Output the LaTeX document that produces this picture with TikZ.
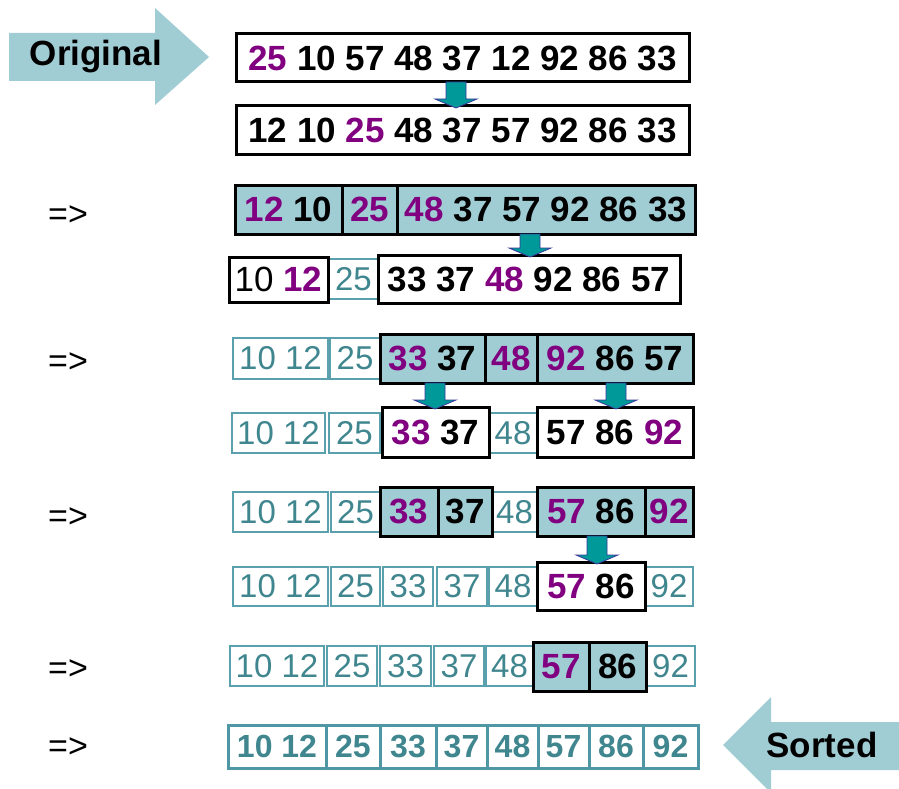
\documentclass[tikz,border=0pt]{standalone}
\usepackage{fontspec}
\setmainfont{Liberation Sans}
\usetikzlibrary{calc}
\definecolor{pur}{HTML}{800080}
\definecolor{lb}{HTML}{A0CCD4}
\definecolor{tealt}{HTML}{40868F}
\definecolor{tealb}{HTML}{5BA0AD}
\definecolor{tealf}{HTML}{4F97A4}
\definecolor{arrfill}{HTML}{009999}
\definecolor{arrline}{HTML}{3A3A9A}
\tikzset{
  cellbase/.style={rectangle, inner sep=0pt, outer sep=0pt},
  cellplain/.style={cellbase, draw=black, line width=3pt, fill=white, text=black, font=\bfseries\fontsize{35}{40}\selectfont},
  cellhl/.style={cellplain, fill=lb},
  celldone/.style={cellbase, draw=tealb, line width=1.2pt, fill=white, text=tealt, font=\fontsize{33}{38}\selectfont},
  cellfin/.style={cellbase, draw=tealf, line width=3pt, fill=white, text=tealt, font=\bfseries\fontsize{32}{38}\selectfont},
  lbl/.style={inner sep=0pt, font=\fontsize{34}{40}\selectfont},
  bigtxt/.style={inner sep=0pt, font=\bfseries\fontsize{35}{40}\selectfont},
  blockarrow/.style={fill=arrfill, draw=arrline, line width=0.8pt, line join=miter},
}
\newcommand\cell[7]{\node[#2, minimum width={#5-#3}, minimum height={#6-#4}] (#1) at ({(#3+#5)/2},{(#4+#6)/2}) {#7};}
\newcommand\downarr[3]{%
  \coordinate (dt) at (#1,0 |- #2.south);
  \coordinate (dh) at ($(#1,0 |- #3.north)+(0,2)$);
  \draw[blockarrow] ($(dt)+(-10,0)$) -- ($(dh)+(-10,-9)$) -- ($(dh)+(-21,-9)$) -- (dh)
     -- ($(dh)+(21,-9)$) -- ($(dh)+(10,-9)$) -- ($(dt)+(10,0)$) -- cycle;}
\newcommand\p[1]{\textcolor{pur}{#1}}
\begin{document}
\begin{tikzpicture}[x=1pt, y=-1pt]
\useasboundingbox (0,0) rectangle (899,789);
\clip (0,0) rectangle (899,789);
% big arrows
\fill[lb] (9,33) -- (155,33) -- (155,8) -- (209,57) -- (155,105) -- (155,81) -- (9,81) -- cycle;
\node[bigtxt] (orig) at (96,57) {Original};
\fill[lb] (899,722) -- (771,722) -- (771,697) -- (723,745) -- (771,793) -- (771,770) -- (899,770) -- cycle;
\node[bigtxt] (sorted) at (822,745) {Sorted};
% labels
\node[lbl] (e1) at (68,216) {=>};
\node[lbl] (e2) at (68,363) {=>};
\node[lbl] (e3) at (68,518) {=>};
\node[lbl] (e4) at (68,670) {=>};
\node[lbl] (e5) at (68,748) {=>};
% row 1-2
\cell{r1}{cellplain}{236}{34}{689}{82}{\p{25} 10 57 48 37 12 92 86 33}
\cell{r2}{cellplain}{236}{106}{689}{154}{12 10 \p{25} 48 37 57 92 86 33}
% row 3
\cell{r3a}{cellhl}{235}{185}{342}{234}{\p{12} 10}
\cell{r3b}{cellhl}{342}{185}{397}{234}{\p{25}}
\cell{r3c}{cellhl}{397}{185}{695}{234}{\p{48} 37 57 92 86 33}
% row 4
\cell{r4b}{celldone}{329}{259}{378}{299}{25}
\cell{r4a}{cellplain}{229}{257}{328}{302}{{\mdseries 10} \p{12}}
\cell{r4c}{cellplain}{378}{255}{680}{303}{33 37 \p{48} 92 86 57}
% row 5
\cell{r5a}{celldone}{233}{338}{328}{379}{10 12}
\cell{r5b}{celldone}{330}{338}{380}{379}{25}
\cell{r5c}{cellhl}{380}{334}{485}{383}{\p{33} 37}
\cell{r5d}{cellhl}{485}{334}{537}{383}{\p{48}}
\cell{r5e}{cellhl}{537}{334}{693}{383}{\p{92} 86 57}
% row 6
\cell{r6a}{celldone}{232}{413}{325}{453}{10 12}
\cell{r6b}{celldone}{329}{413}{380}{453}{25}
\cell{r6d}{celldone}{489}{413}{537}{453}{48}
\cell{r6c}{cellplain}{382}{407}{489}{457}{\p{33} 37}
\cell{r6e}{cellplain}{537}{407}{693}{457}{57 86 \p{92}}
% row 7
\cell{r7a}{celldone}{233}{492}{328}{532}{10 12}
\cell{r7b}{celldone}{331}{492}{380}{532}{25}
\cell{r7e}{celldone}{492}{492}{537}{532}{48}
\cell{r7c}{cellhl}{380}{487}{438}{536}{\p{33}}
\cell{r7d}{cellhl}{438}{487}{492}{536}{37}
\cell{r7f}{cellhl}{537}{487}{645}{536}{\p{57} 86}
\cell{r7g}{cellhl}{645}{487}{693}{536}{\p{92}}
% row 8
\cell{r8a}{celldone}{233}{567}{328}{606}{10 12}
\cell{r8b}{celldone}{331}{567}{380}{606}{25}
\cell{r8c}{celldone}{383}{567}{433}{606}{33}
\cell{r8d}{celldone}{437}{567}{487}{606}{37}
\cell{r8e}{celldone}{489}{567}{537}{606}{48}
\cell{r8g}{celldone}{645}{567}{693}{606}{92}
\cell{r8f}{cellplain}{537}{562}{645}{610}{\p{57} 86}
% row 9
\cell{r9a}{celldone}{230}{646}{324}{686}{10 12}
\cell{r9b}{celldone}{327}{646}{377}{686}{25}
\cell{r9c}{celldone}{380}{646}{431}{686}{33}
\cell{r9d}{celldone}{434}{646}{484}{686}{37}
\cell{r9e}{celldone}{486}{646}{533}{686}{48}
\cell{r9h}{celldone}{646}{646}{695}{686}{92}
\cell{r9f}{cellhl}{533}{642}{589}{691}{\p{57}}
\cell{r9g}{cellhl}{589}{642}{646}{691}{86}
% row 10
\cell{s1}{cellfin}{228}{725}{326}{768}{10 12}
\cell{s2}{cellfin}{326}{725}{380}{768}{25}
\cell{s3}{cellfin}{380}{725}{436}{768}{33}
\cell{s4}{cellfin}{436}{725}{487}{768}{37}
\cell{s5}{cellfin}{487}{725}{538}{768}{48}
\cell{s6}{cellfin}{538}{725}{589}{768}{57}
\cell{s7}{cellfin}{589}{725}{643}{768}{86}
\cell{s8}{cellfin}{643}{725}{698}{768}{92}
% block arrows
\downarr{456}{r1}{r2}
\downarr{530}{r3c}{r4c}
\downarr{435}{r5c}{r6c}
\downarr{616}{r5e}{r6e}
\downarr{597}{r7f}{r8f}
\end{tikzpicture}
\end{document}
